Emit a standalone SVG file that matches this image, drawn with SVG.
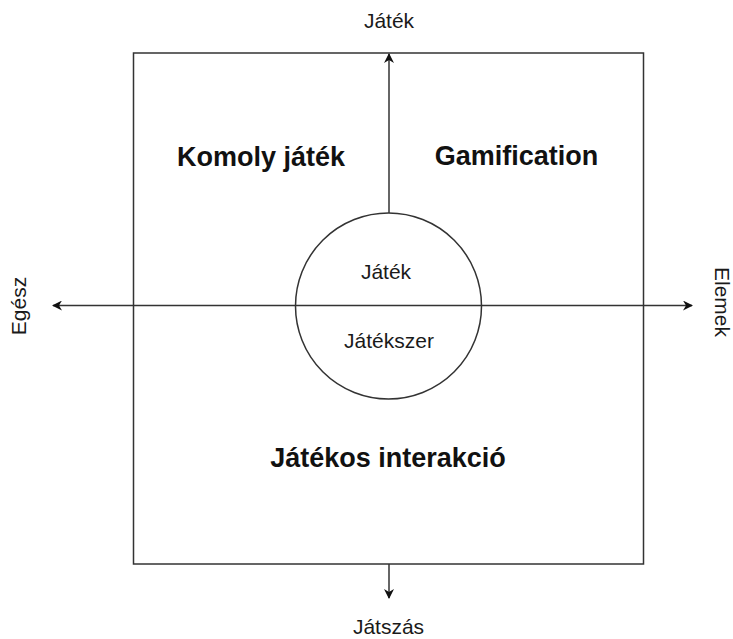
<svg xmlns="http://www.w3.org/2000/svg" width="733" height="639" viewBox="0 0 733 639">
<style>
.ln{stroke:#333;stroke-width:1.5;fill:none}
.sm{font-family:"Liberation Sans",Arial,sans-serif;font-size:21px;fill:#1a1a1a;text-anchor:middle}
.bg{font-family:"Liberation Sans",Arial,sans-serif;font-size:27px;font-weight:bold;fill:#111;text-anchor:middle}
</style>
<defs>
<marker id="ah" viewBox="0 0 10 10" refX="9" refY="5" markerWidth="10" markerHeight="10" markerUnits="userSpaceOnUse" orient="auto">
<path d="M0,0 L10,5 L0,10 L3,5 Z" fill="#111"/>
</marker>
</defs>
<rect width="733" height="639" fill="#fff"/>
<g id="frame"><rect x="133.5" y="53" width="510" height="511" class="ln"/></g>
<g id="connectors">
<line x1="389" y1="213" x2="389" y2="54" class="ln" marker-end="url(#ah)"/>
<line x1="389" y1="305.5" x2="53" y2="305.5" class="ln" marker-end="url(#ah)"/>
<line x1="389" y1="305.5" x2="692" y2="305.5" class="ln" marker-end="url(#ah)"/>
<line x1="389" y1="564" x2="389" y2="598" class="ln" marker-end="url(#ah)"/>
</g>
<g id="center"><circle cx="388.5" cy="306" r="93" class="ln"/>
<text x="386" y="279" class="sm">Játék</text>
<text x="389" y="348" class="sm">Játékszer</text></g>
<g id="q-komoly"><text x="261" y="166" class="bg">Komoly játék</text></g>
<g id="q-gamification"><text x="516.5" y="165" class="bg">Gamification</text></g>
<g id="q-interakcio"><text x="388" y="467" class="bg">Játékos interakció</text></g>
<g id="l-top"><text x="389" y="28" class="sm">Játék</text></g>
<g id="l-bottom"><text x="388.5" y="634" class="sm">Játszás</text></g>
<g id="l-left"><text transform="translate(26,306) rotate(-90)" class="sm">Egész</text></g>
<g id="l-right"><text transform="translate(715,302) rotate(90)" class="sm">Elemek</text></g>
</svg>
